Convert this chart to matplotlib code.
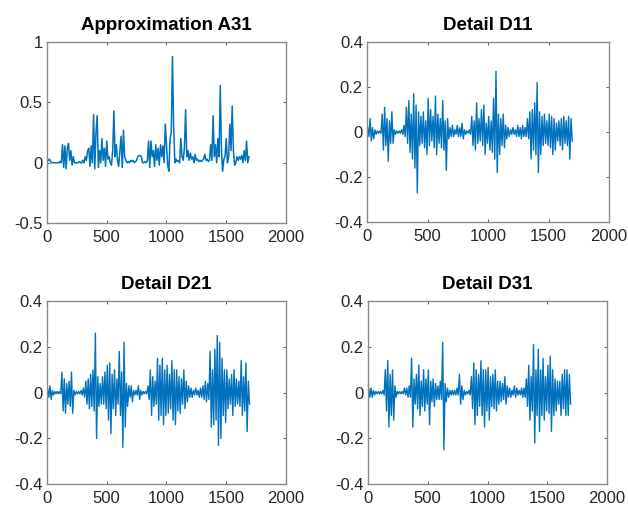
import numpy as np
import matplotlib
matplotlib.use("Agg")
import matplotlib.pyplot as plt

plt.rcParams['font.family'] = ['Liberation Sans', 'DejaVu Sans']

titles = ["Approximation A31", "Detail D11", "Detail D21", "Detail D31"]
x_ticks = [0, 500, 1000, 1500, 2000]
x_tick_labels = ["0", "500", "1000", "1500", "2000"]
a_yticks = [-0.5, 0, 0.5, 1]
a_ytick_labels = ["-0.5", "0", "0.5", "1"]
d_yticks = [-0.4, -0.2, 0, 0.2, 0.4]
d_ytick_labels = ["-0.4", "-0.2", "0", "0.2", "0.4"]

# Approximation A31, sampled every 10 points from 0 to 1690
a31 = [0.0, 0.02, 0.03, 0.01, 0.0, 0.0, 0.0, 0.0, 0.0, 0.0,
       0.0, 0.01, 0.0, 0.15, -0.04, 0.14, -0.05, 0.12, 0.16, 0.02,
       0.1, -0.02, 0.05, 0.0, 0.0, 0.0, 0.0, 0.01, 0.0, 0.0,
       0.02, 0.0, 0.05, 0.02, 0.1, 0.12, -0.03, 0.14, 0.0, 0.40,
       -0.05, 0.25, 0.39, -0.04, 0.1, 0.0, 0.2, 0.02, 0.12, -0.03,
       0.18, 0.03, 0.05, 0.0, -0.02, 0.1, 0.43, 0.05, 0.15, 0.02,
       -0.03, 0.1, 0.22, -0.04, 0.27, 0.05, 0.02, 0.0, 0.01, 0.0,
       0.02, 0.01, 0.02, 0.0, 0.01, 0.02, 0.05, 0.06, 0.06, 0.05,
       0.0, 0.0, 0.01, 0.0, 0.02, 0.18, -0.04, 0.18, 0.05, 0.1,
       -0.03, 0.15, 0.02, 0.12, -0.02, 0.15, 0.05, 0.14, 0.0, 0.32,
       0.15, -0.02, -0.07, 0.2, 0.25, 0.88, 0.3, 0.0, 0.03, 0.01,
       0.02, 0.0, 0.2, 0.05, 0.02, 0.12, 0.44, 0.05, 0.1, 0.02,
       0.08, 0.03, 0.05, 0.0, 0.07, 0.02, 0.03, 0.01, 0.02, 0.01,
       0.02, 0.03, 0.07, 0.02, 0.03, 0.01, 0.02, 0.15, 0.02, 0.39,
       0.05, 0.15, 0.0, 0.2, 0.05, 0.64, 0.1, -0.07, 0.03, 0.05,
       0.2, 0.0, 0.05, 0.32, 0.1, 0.47, 0.1, -0.02, 0.0, 0.05,
       0.02, 0.05, 0.03, 0.06, 0.0, 0.1, 0.02, 0.18, 0.0, 0.05]

# Detail series: per-block (20 samples) high and low excursions, blocks 0..1680
d11_hi = [0.02, 0.06, 0.02, 0.01, 0.005, 0.005, 0.08, 0.11, 0.06, 0.05,
          0.09, 0.01, 0.005, 0.005, 0.01, 0.03, 0.11, 0.14, 0.08, 0.17,
          0.12, 0.09, 0.07, 0.09, 0.05, 0.15, 0.1, 0.07, 0.16, 0.08,
          0.06, 0.14, 0.05, 0.06, 0.02, 0.03, 0.01, 0.03, 0.02, 0.04,
          0.01, 0.005, 0.01, 0.07, 0.05, 0.13, 0.06, 0.1, 0.12, 0.04,
          0.07, 0.05, 0.15, 0.27, 0.08, 0.06, 0.08, 0.03, 0.02, 0.01,
          0.02, 0.01, 0.03, 0.02, 0.03, 0.02, 0.06, 0.09, 0.1, 0.13,
          0.22, 0.09, 0.07, 0.08, 0.05, 0.08, 0.07, 0.06, 0.04, 0.05,
          0.06, 0.07, 0.05, 0.07, 0.06]
d11_lo = [-0.02, -0.04, -0.03, -0.01, -0.005, -0.005, -0.08, -0.06, -0.13, -0.05,
          -0.05, -0.01, -0.005, -0.005, -0.01, -0.02, -0.05, -0.09, -0.12, -0.16,
          -0.27, -0.06, -0.05, -0.07, -0.1, -0.06, -0.04, -0.07, -0.1, -0.05,
          -0.07, -0.08, -0.17, -0.03, -0.02, -0.02, -0.01, -0.02, -0.02, -0.03,
          -0.01, -0.005, -0.01, -0.06, -0.08, -0.05, -0.04, -0.06, -0.1, -0.05,
          -0.08, -0.09, -0.12, -0.18, -0.1, -0.06, -0.07, -0.03, -0.02, -0.01,
          -0.01, -0.02, -0.02, -0.03, -0.02, -0.02, -0.03, -0.12, -0.08, -0.1,
          -0.18, -0.1, -0.06, -0.05, -0.06, -0.07, -0.1, -0.08, -0.04, -0.06,
          -0.08, -0.05, -0.06, -0.12, -0.04]

d21_hi = [0.02, 0.03, 0.01, 0.005, 0.005, 0.005, 0.09, 0.06, 0.04, 0.05,
          0.09, 0.01, 0.005, 0.005, 0.01, 0.02, 0.05, 0.06, 0.08, 0.1,
          0.26, 0.07, 0.04, 0.07, 0.09, 0.12, 0.13, 0.08, 0.1, 0.06,
          0.18, 0.09, 0.22, 0.04, 0.03, 0.03, 0.01, 0.01, 0.03, 0.01,
          0.005, 0.005, 0.03, 0.1, 0.07, 0.05, 0.15, 0.12, 0.15, 0.1,
          0.12, 0.08, 0.14, 0.1, 0.1, 0.07, 0.06, 0.1, 0.05, 0.03,
          0.02, 0.01, 0.02, 0.01, 0.02, 0.03, 0.05, 0.04, 0.18, 0.1,
          0.19, 0.25, 0.22, 0.15, 0.1, 0.1, 0.06, 0.08, 0.1, 0.06,
          0.05, 0.14, 0.07, 0.13, 0.05]
d21_lo = [-0.02, -0.03, -0.01, -0.005, -0.005, -0.005, -0.08, -0.09, -0.05, -0.06,
          -0.09, -0.01, -0.005, -0.005, -0.01, -0.02, -0.05, -0.07, -0.06, -0.08,
          -0.2, -0.06, -0.05, -0.05, -0.07, -0.12, -0.18, -0.07, -0.1, -0.05,
          -0.1, -0.24, -0.15, -0.06, -0.02, -0.04, -0.01, -0.01, -0.03, -0.01,
          -0.005, -0.005, -0.03, -0.1, -0.06, -0.05, -0.12, -0.1, -0.14, -0.1,
          -0.09, -0.07, -0.12, -0.14, -0.08, -0.09, -0.05, -0.07, -0.04, -0.02,
          -0.02, -0.01, -0.01, -0.02, -0.02, -0.03, -0.04, -0.03, -0.15, -0.14,
          -0.12, -0.23, -0.2, -0.1, -0.13, -0.07, -0.05, -0.1, -0.06, -0.05,
          -0.06, -0.1, -0.08, -0.17, -0.05]

d31_hi = [0.02, 0.02, 0.01, 0.005, 0.005, 0.005, 0.01, 0.1, 0.14, 0.08,
          0.1, 0.03, 0.005, 0.005, 0.005, 0.02, 0.02, 0.03, 0.15, 0.06,
          0.08, 0.12, 0.05, 0.1, 0.06, 0.1, 0.05, 0.06, 0.04, 0.03,
          0.05, 0.22, 0.04, 0.02, 0.01, 0.01, 0.01, 0.02, 0.08, 0.03,
          0.01, 0.005, 0.01, 0.07, 0.13, 0.1, 0.08, 0.14, 0.1, 0.1,
          0.11, 0.07, 0.08, 0.1, 0.05, 0.05, 0.04, 0.07, 0.03, 0.02,
          0.01, 0.03, 0.02, 0.01, 0.02, 0.02, 0.06, 0.12, 0.07, 0.21,
          0.1, 0.19, 0.1, 0.15, 0.07, 0.12, 0.16, 0.1, 0.06, 0.05,
          0.05, 0.08, 0.1, 0.1, 0.08]
d31_lo = [-0.02, -0.02, -0.01, -0.005, -0.005, -0.005, -0.01, -0.08, -0.15, -0.1,
          -0.12, -0.02, -0.005, -0.005, -0.005, -0.01, -0.02, -0.02, -0.15, -0.05,
          -0.07, -0.1, -0.06, -0.08, -0.05, -0.14, -0.04, -0.06, -0.03, -0.03,
          -0.03, -0.25, -0.04, -0.02, -0.01, -0.01, -0.01, -0.01, -0.05, -0.03,
          -0.01, -0.005, -0.01, -0.07, -0.14, -0.1, -0.06, -0.1, -0.15, -0.08,
          -0.12, -0.06, -0.07, -0.08, -0.05, -0.04, -0.03, -0.05, -0.02, -0.02,
          -0.01, -0.02, -0.01, -0.01, -0.02, -0.02, -0.06, -0.12, -0.08, -0.22,
          -0.1, -0.17, -0.1, -0.12, -0.08, -0.09, -0.17, -0.1, -0.08, -0.05,
          -0.1, -0.07, -0.1, -0.1, -0.05]

LINE = '#0072BD'
AXC = '#404040'

fig = plt.figure(figsize=(6.28, 5.07), dpi=100)
positions = [
    [0.0748, 0.560, 0.3806, 0.357],
    [0.5845, 0.562, 0.3855, 0.355],
    [0.0748, 0.045, 0.3806, 0.361],
    [0.586, 0.045, 0.3806, 0.361],
]


def style(ax, title, yt, ytl, ylim):
    ax.set_xlim(0, 2000)
    ax.set_ylim(*ylim)
    ax.set_xticks(x_ticks)
    ax.set_xticklabels(x_tick_labels)
    ax.set_yticks(yt)
    ax.set_yticklabels(ytl)
    ax.tick_params(direction='in', length=2.5, width=0.6, colors=AXC,
                   labelcolor='#262626', labelsize=12, top=True, right=True)
    ax.tick_params(axis='x', pad=5)
    ax.tick_params(axis='y', pad=3)
    for s in ax.spines.values():
        s.set_color('#8a8a8a')
        s.set_linewidth(1.0)
    ax.set_title(title, fontsize=13.5, fontweight='bold', color='black', pad=8.5)


def detail_series(hi, lo):
    blocks = np.arange(len(hi)) * 20
    xs = np.empty(2 * len(hi))
    ys = np.empty(2 * len(hi))
    xs[0::2] = blocks + 5
    xs[1::2] = blocks + 15
    ys[0::2] = hi
    ys[1::2] = lo
    return xs, ys


ax = fig.add_axes(positions[0])
xa = np.arange(len(a31)) * 10
ax.plot(xa, a31, color=LINE, lw=1.1)
style(ax, titles[0], a_yticks, a_ytick_labels, (-0.5, 1))

for k, (hi, lo) in enumerate([(d11_hi, d11_lo), (d21_hi, d21_lo), (d31_hi, d31_lo)]):
    ax = fig.add_axes(positions[k + 1])
    xs, ys = detail_series(hi, lo)
    ax.plot(xs, ys, color=LINE, lw=1.0)
    style(ax, titles[k + 1], d_yticks, d_ytick_labels, (-0.4, 0.4))

fig.savefig('out.png', dpi=100)
